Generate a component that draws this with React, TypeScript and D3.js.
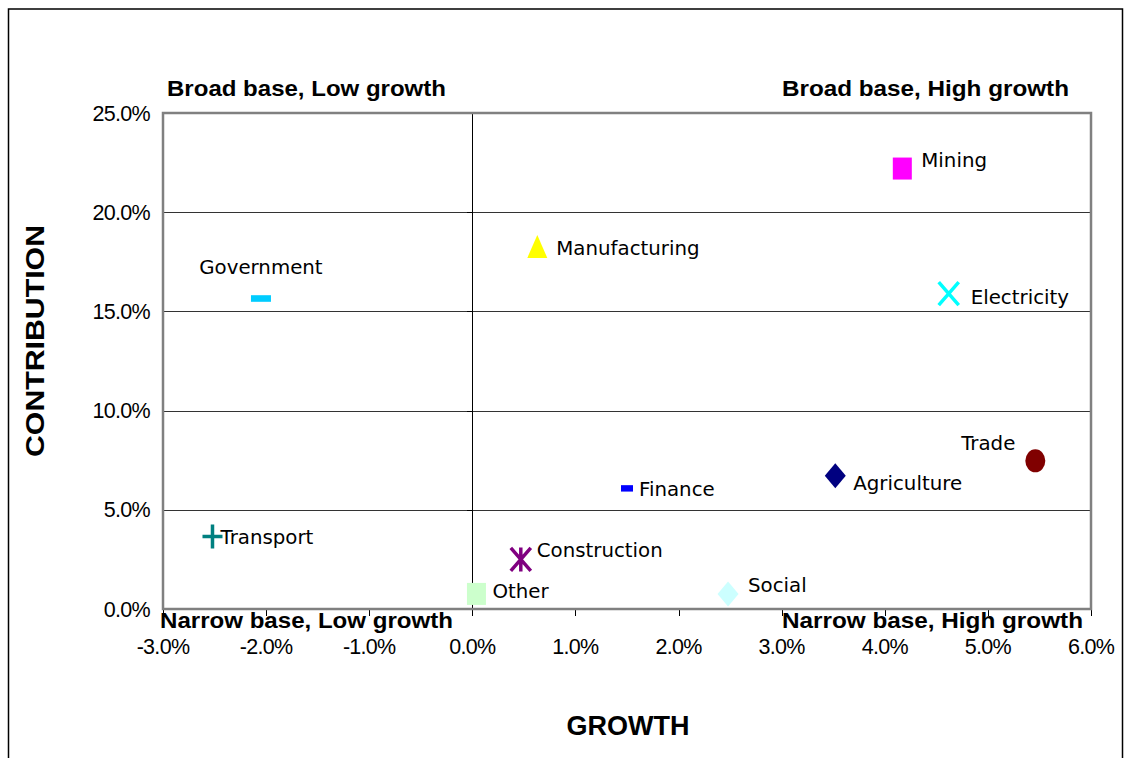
import React from "react";
import * as d3 from "d3";

const sectors = ["Mining", "Electricity", "Manufacturing", "Government", "Transport", "Finance", "Construction", "Other", "Social", "Agriculture", "Trade"];
const growth = [4.17, 4.62, 0.63, -2.05, -2.52, 1.5, 0.47, 0.04, 2.48, 3.52, 5.46];
const contribution = [22.2, 15.9, 18.25, 15.65, 3.65, 6.08, 2.5, 0.76, 0.76, 6.72, 7.47];
const colors = ["#FF00FF", "#00FFFF", "#FFFF00", "#00CCFF", "#008080", "#0000FF", "#800080", "#CCFFCC", "#CCFFFF", "#000080", "#800000"];
const shapes = ["square", "x", "triangle", "dash", "plus", "smalldash", "asterisk", "square", "diamond", "diamond", "circle"];
const labelDx = [19, 22, 19, 0, 8, 12, 16, 16, 20, 18, -20];
const labelDy = [-8, 4, 1, -31, 0, 1, -9, -3, -9, 7, -18];
const labelAnchor = ["start", "start", "start", "middle", "start", "start", "start", "start", "start", "start", "end"];

const xTicks = [-3, -2, -1, 0, 1, 2, 3, 4, 5, 6];
const yTicks = [0, 5, 10, 15, 20, 25];

const quadrantLabels = ["Broad base, Low growth", "Broad base, High growth", "Narrow base, Low growth", "Narrow base, High growth"];

function Marker({ shape, color, cx, cy }: { shape: string; color: string; cx: number; cy: number }) {
  const w = 10, h = 11.5;
  switch (shape) {
    case "square":
      return <rect x={cx - 9.5} y={cy - 11} width={19} height={22} fill={color} />;
    case "x":
      return (
        <path d={`M${cx - w},${cy - h}L${cx + w},${cy + h}M${cx + w},${cy - h}L${cx - w},${cy + h}`} stroke={color} strokeWidth={3.5} fill="none" />
      );
    case "triangle":
      return <path d={`M${cx},${cy - 12}L${cx + 10},${cy + 11}L${cx - 10},${cy + 11}Z`} fill={color} />;
    case "dash":
      return <rect x={cx - 10} y={cy - 3.3} width={20} height={6.6} fill={color} />;
    case "smalldash":
      return <rect x={cx - 6} y={cy - 3.2} width={12} height={6.4} fill={color} />;
    case "plus":
      return (
        <path d={`M${cx - w},${cy}L${cx + w},${cy}M${cx},${cy - 12}L${cx},${cy + 12}`} stroke={color} strokeWidth={3.5} fill="none" />
      );
    case "asterisk":
      return (
        <path
          d={`M${cx - w},${cy - h}L${cx + w},${cy + h}M${cx + w},${cy - h}L${cx - w},${cy + h}M${cx},${cy - 12}L${cx},${cy + 12}`}
          stroke={color}
          strokeWidth={3.5}
          fill="none"
        />
      );
    case "diamond":
      return <path d={`M${cx},${cy - 12.5}L${cx + 10.5},${cy}L${cx},${cy + 12.5}L${cx - 10.5},${cy}Z`} fill={color} />;
    case "circle":
      return <ellipse cx={cx} cy={cy} rx={10} ry={11.5} fill={color} />;
    default:
      return null;
  }
}

export default function App() {
  const left = 163, right = 1091, top = 113, bottom = 609;
  const x = d3.scaleLinear().domain([-3, 6]).range([left, right]);
  const y = d3.scaleLinear().domain([0, 25]).range([bottom, top]);
  const fmt = (v: number) => v.toFixed(1) + "%";
  const x0 = x(0);

  return (
    <svg width={1125} height={758} style={{ position: "absolute", left: 0, top: 0, background: "#fff" }}>
      <rect x={0} y={0} width={1125} height={758} fill="#fff" />
      <rect x={8.5} y={9} width={1114} height={780} fill="none" stroke="#000" strokeWidth={1.5} />

      {yTicks.filter((t) => t > 0 && t < 25).map((t) => (
        <line key={t} x1={left} x2={right} y1={Math.round(y(t)) + 0.5} y2={Math.round(y(t)) + 0.5} stroke="#333" strokeWidth={1} />
      ))}

      <line x1={Math.round(x0) + 0.5} x2={Math.round(x0) + 0.5} y1={top} y2={bottom} stroke="#000" strokeWidth={1} />
      {yTicks.map((t) => (
        <line key={"yt" + t} x1={Math.round(x0) - 5} x2={Math.round(x0) + 0.5} y1={Math.round(y(t)) + 0.5} y2={Math.round(y(t)) + 0.5} stroke="#000" strokeWidth={1} />
      ))}

      {xTicks.map((t) => (
        <line key={"xt" + t} x1={Math.round(x(t)) + 0.5} x2={Math.round(x(t)) + 0.5} y1={bottom} y2={bottom + 7} stroke="#000" strokeWidth={1} />
      ))}

      <rect x={left} y={top} width={right - left} height={bottom - top} fill="none" stroke="#808080" strokeWidth={2.5} />

      {yTicks.map((t) => (
        <text key={"yl" + t} x={150} y={y(t)} dy="0.35em" textAnchor="end" fontFamily="Liberation Sans, Arial, sans-serif" fontSize={21.5} letterSpacing={-0.7} fill="#000">
          {fmt(t)}
        </text>
      ))}

      {xTicks.map((t) => (
        <text key={"xl" + t} x={x(t)} y={646} dy="0.35em" textAnchor="middle" fontFamily="Liberation Sans, Arial, sans-serif" fontSize={21.5} letterSpacing={-0.7} fill="#000">
          {fmt(t)}
        </text>
      ))}

      <text x={167} y={88} dy="0.35em" fontFamily="Liberation Sans, Arial, sans-serif" fontWeight="bold" fontSize={22} textLength={279} lengthAdjust="spacingAndGlyphs" fill="#000">{quadrantLabels[0]}</text>
      <text x={782} y={88} dy="0.35em" fontFamily="Liberation Sans, Arial, sans-serif" fontWeight="bold" fontSize={22} textLength={287} lengthAdjust="spacingAndGlyphs" fill="#000">{quadrantLabels[1]}</text>
      <text x={160} y={620} dy="0.35em" fontFamily="Liberation Sans, Arial, sans-serif" fontWeight="bold" fontSize={22} textLength={293} lengthAdjust="spacingAndGlyphs" fill="#000">{quadrantLabels[2]}</text>
      <text x={782} y={620} dy="0.35em" fontFamily="Liberation Sans, Arial, sans-serif" fontWeight="bold" fontSize={22} textLength={301} lengthAdjust="spacingAndGlyphs" fill="#000">{quadrantLabels[3]}</text>

      <text x={628} y={726} dy="0.35em" textAnchor="middle" fontFamily="Liberation Sans, Arial, sans-serif" fontWeight="bold" fontSize={27} textLength={123} lengthAdjust="spacingAndGlyphs" fill="#000">GROWTH</text>
      <text transform={`translate(35,341) rotate(-90)`} dy="0.35em" textAnchor="middle" fontFamily="Liberation Sans, Arial, sans-serif" fontWeight="bold" fontSize={25} textLength={232} lengthAdjust="spacingAndGlyphs" fill="#000">CONTRIBUTION</text>

      {sectors.map((s, i) => (
        <Marker key={s} shape={shapes[i]} color={colors[i]} cx={x(growth[i])} cy={y(contribution[i])} />
      ))}
      {sectors.map((s, i) => (
        <text
          key={"lab" + s}
          x={x(growth[i]) + labelDx[i]}
          y={y(contribution[i]) + labelDy[i]}
          dy="0.35em"
          textAnchor={labelAnchor[i] as any}
          fontFamily="DejaVu Sans, sans-serif"
          fontSize={19.8}
          fill="#000"
        >
          {s}
        </text>
      ))}
    </svg>
  );
}
